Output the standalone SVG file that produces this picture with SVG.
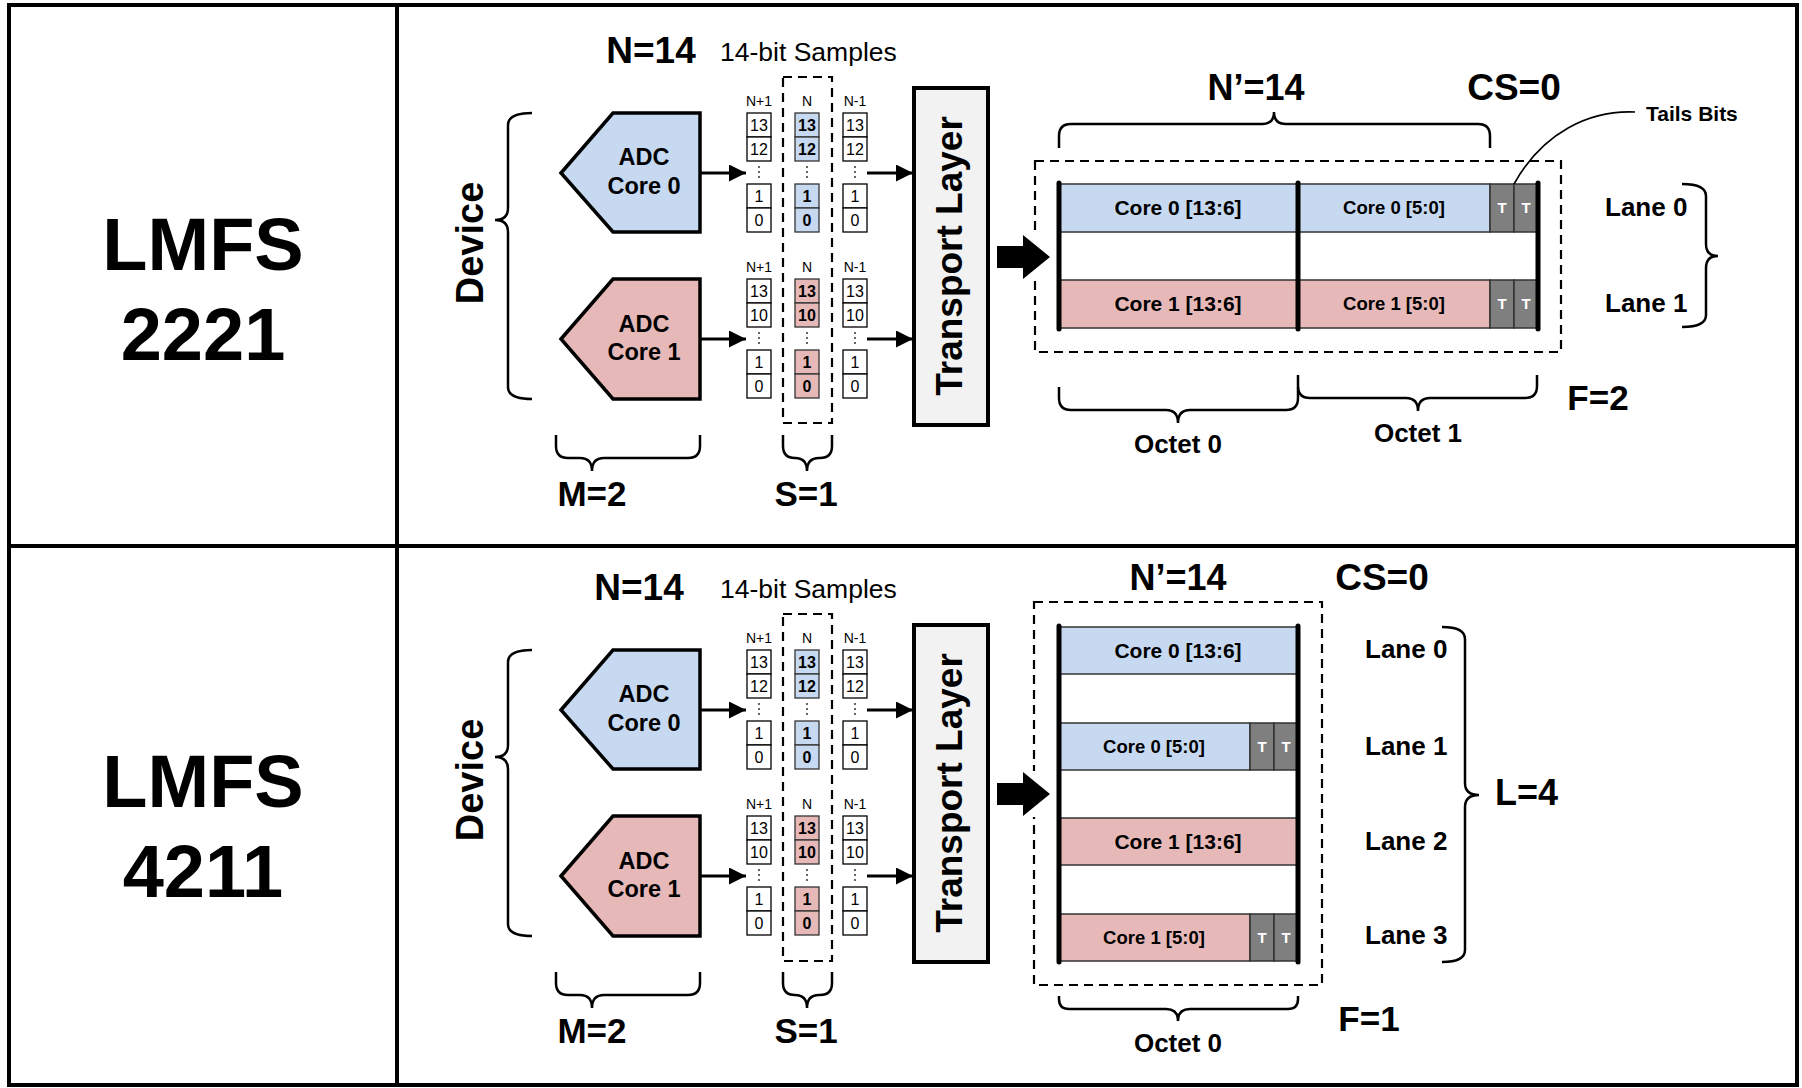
<svg xmlns="http://www.w3.org/2000/svg" width="1802" height="1088" viewBox="0 0 1802 1088">
<defs>
<style>
.b{font-family:"Liberation Sans",Arial,sans-serif;font-weight:bold;fill:#000}
.n{font-family:"Liberation Sans",Arial,sans-serif;fill:#000}
.c{text-anchor:middle}
.blue{fill:#c6d9f1}
.red{fill:#e6b9b8}
.box{fill:#fff;stroke:#000;stroke-width:1.3}
.bbox{stroke:#333;stroke-width:1.3}
.adc{stroke:#000;stroke-width:3.5;stroke-linejoin:miter}
.brace{fill:none;stroke:#000;stroke-width:2.5}
.dash{fill:none;stroke:#000;stroke-width:2.2;stroke-dasharray:9 6}
.row{stroke:#333;stroke-width:1.5}
.tc{fill:#7f7f7f;stroke:#333;stroke-width:1.5}
.thick{stroke:#000;stroke-width:5;stroke-linecap:round}
.wire{stroke:#000;stroke-width:3.2;fill:none}
.dot{fill:#333}
.tl{fill:#f2f2f2;stroke:#000;stroke-width:4}
</style>
<marker id="ah" markerUnits="userSpaceOnUse" markerWidth="18" markerHeight="18" refX="17" refY="8.5" orient="auto">
<path d="M0,0 L17,8.5 L0,17 Z" fill="#000"/>
</marker>
</defs>
<rect width="1802" height="1088" fill="#fff"/>

<g id="frame" fill="none" stroke="#000" stroke-width="4">
<rect x="9" y="5" width="1788" height="1080"/>
<line x1="397" y1="5" x2="397" y2="1085"/>
<line x1="9" y1="546" x2="1797" y2="546"/>
</g>

<!-- ===================== TOP PANEL ===================== -->
<g id="title-2221">
<text class="b c" x="203" y="270" font-size="74">LMFS</text>
<text class="b c" x="203" y="360" font-size="74">2221</text>
</g>

<g id="device-top">
<path class="brace" d="M532,113 Q508,113 508,125 L508,208 Q508,220 495,220 Q508,220 508,232 L508,387 Q508,399 532,399"/>
<text class="b c" font-size="38" transform="translate(483,243) rotate(-90)">Device</text>
</g>

<g id="adc0-top">
<polygon class="adc blue" points="561,173 613,113 700,113 700,232 613,232"/>
<text class="b c" x="644" y="165" font-size="23.5">ADC</text>
<text class="b c" x="644" y="194" font-size="23.5">Core 0</text>
</g>
<g id="adc1-top">
<polygon class="adc red" points="561,339 613,279 700,279 700,399 613,399"/>
<text class="b c" x="644" y="332" font-size="23.5">ADC</text>
<text class="b c" x="644" y="360" font-size="23.5">Core 1</text>
</g>

<g id="labels-top">
<text class="b c" x="651" y="63" font-size="37">N=14</text>
<text class="n" x="720" y="61" font-size="26.5">14-bit Samples</text>
<path class="brace" d="M556,435 L556,446 Q556,458 568,458 L580,458 Q592,458 592,471 Q592,458 604,458 L688,458 Q700,458 700,446 L700,435"/>
<text class="b c" x="592" y="506" font-size="35">M=2</text>
<path class="brace" d="M783,435 L783,446 Q783,458 795,458 L795,458 Q807,458 807,471 Q807,458 819,458 L820,458 Q832,458 832,446 L832,435"/>
<text class="b c" x="806" y="506" font-size="35">S=1</text>
</g>

<g id="samples0-top">
<text class="n c" x="759" y="106" font-size="14">N+1</text>
<text class="n c" x="807" y="106" font-size="14">N</text>
<text class="n c" x="855" y="106" font-size="14">N-1</text>
<rect class="box" x="747" y="113" width="24" height="24"/><rect class="box" x="747" y="137" width="24" height="24"/>
<rect class="box" x="747" y="184" width="24" height="24"/><rect class="box" x="747" y="208" width="24" height="24"/>
<rect class="bbox blue" x="795" y="113" width="24" height="24"/><rect class="bbox blue" x="795" y="137" width="24" height="24"/>
<rect class="bbox blue" x="795" y="184" width="24" height="24"/><rect class="bbox blue" x="795" y="208" width="24" height="24"/>
<rect class="box" x="843" y="113" width="24" height="24"/><rect class="box" x="843" y="137" width="24" height="24"/>
<rect class="box" x="843" y="184" width="24" height="24"/><rect class="box" x="843" y="208" width="24" height="24"/>
<text class="n c" x="759" y="131" font-size="16">13</text><text class="n c" x="759" y="155" font-size="16">12</text>
<text class="n c" x="759" y="202" font-size="16">1</text><text class="n c" x="759" y="226" font-size="16">0</text>
<text class="b c" x="807" y="131" font-size="16">13</text><text class="b c" x="807" y="155" font-size="16">12</text>
<text class="b c" x="807" y="202" font-size="16">1</text><text class="b c" x="807" y="226" font-size="16">0</text>
<text class="n c" x="855" y="131" font-size="16">13</text><text class="n c" x="855" y="155" font-size="16">12</text>
<text class="n c" x="855" y="202" font-size="16">1</text><text class="n c" x="855" y="226" font-size="16">0</text>
<circle class="dot" cx="759" cy="167" r="1"/><circle class="dot" cx="759" cy="172" r="1"/><circle class="dot" cx="759" cy="177" r="1"/>
<circle class="dot" cx="807" cy="167" r="1"/><circle class="dot" cx="807" cy="172" r="1"/><circle class="dot" cx="807" cy="177" r="1"/>
<circle class="dot" cx="855" cy="167" r="1"/><circle class="dot" cx="855" cy="172" r="1"/><circle class="dot" cx="855" cy="177" r="1"/>
</g>

<g id="samples1-top" transform="translate(0,166)">
<text class="n c" x="759" y="106" font-size="14">N+1</text>
<text class="n c" x="807" y="106" font-size="14">N</text>
<text class="n c" x="855" y="106" font-size="14">N-1</text>
<rect class="box" x="747" y="113" width="24" height="24"/><rect class="box" x="747" y="137" width="24" height="24"/>
<rect class="box" x="747" y="184" width="24" height="24"/><rect class="box" x="747" y="208" width="24" height="24"/>
<rect class="bbox red" x="795" y="113" width="24" height="24"/><rect class="bbox red" x="795" y="137" width="24" height="24"/>
<rect class="bbox red" x="795" y="184" width="24" height="24"/><rect class="bbox red" x="795" y="208" width="24" height="24"/>
<rect class="box" x="843" y="113" width="24" height="24"/><rect class="box" x="843" y="137" width="24" height="24"/>
<rect class="box" x="843" y="184" width="24" height="24"/><rect class="box" x="843" y="208" width="24" height="24"/>
<text class="n c" x="759" y="131" font-size="16">13</text><text class="n c" x="759" y="155" font-size="16">10</text>
<text class="n c" x="759" y="202" font-size="16">1</text><text class="n c" x="759" y="226" font-size="16">0</text>
<text class="b c" x="807" y="131" font-size="16">13</text><text class="b c" x="807" y="155" font-size="16">10</text>
<text class="b c" x="807" y="202" font-size="16">1</text><text class="b c" x="807" y="226" font-size="16">0</text>
<text class="n c" x="855" y="131" font-size="16">13</text><text class="n c" x="855" y="155" font-size="16">10</text>
<text class="n c" x="855" y="202" font-size="16">1</text><text class="n c" x="855" y="226" font-size="16">0</text>
<circle class="dot" cx="759" cy="167" r="1"/><circle class="dot" cx="759" cy="172" r="1"/><circle class="dot" cx="759" cy="177" r="1"/>
<circle class="dot" cx="807" cy="167" r="1"/><circle class="dot" cx="807" cy="172" r="1"/><circle class="dot" cx="807" cy="177" r="1"/>
<circle class="dot" cx="855" cy="167" r="1"/><circle class="dot" cx="855" cy="172" r="1"/><circle class="dot" cx="855" cy="177" r="1"/>
</g>

<g id="sample-select-top">
<rect class="dash" x="783" y="77" width="49" height="346"/>
</g>

<g id="transport-top">
<rect class="tl" x="914" y="88" width="74" height="337"/>
<text class="b c" font-size="37" transform="translate(962,256) rotate(-90)">Transport Layer</text>
</g>

<g id="lanes-top">
<rect class="dash" x="1035" y="161" width="526" height="191"/>
<rect class="row blue" x="1059" y="184" width="431" height="48"/>
<rect class="row red" x="1059" y="280" width="431" height="48"/>
<rect class="tc" x="1490" y="184" width="24" height="48"/><rect class="tc" x="1514" y="184" width="24" height="48"/>
<rect class="tc" x="1490" y="280" width="24" height="48"/><rect class="tc" x="1514" y="280" width="24" height="48"/>
<line class="thick" x1="1059" y1="183" x2="1059" y2="329"/>
<line class="thick" x1="1298" y1="183" x2="1298" y2="329"/>
<line class="thick" x1="1538" y1="183" x2="1538" y2="329"/>
<text class="b c" x="1178" y="215" font-size="21">Core 0 [13:6]</text>
<text class="b c" x="1394" y="214" font-size="18.5">Core 0 [5:0]</text>
<text class="b c" x="1178" y="311" font-size="21">Core 1 [13:6]</text>
<text class="b c" x="1394" y="310" font-size="18.5">Core 1 [5:0]</text>
<g class="b c" font-size="15" style="fill:#fff">
<text x="1502" y="213">T</text><text x="1526" y="213">T</text>
<text x="1502" y="309">T</text><text x="1526" y="309">T</text>
</g>
</g>

<g id="annot-top">
<text class="b c" x="1256" y="100" font-size="36">N’=14</text>
<text class="b c" x="1514" y="100" font-size="37">CS=0</text>
<path class="brace" d="M1059,148 L1059,136 Q1059,124 1071,124 L1262,124 Q1274,124 1274,112 Q1274,124 1286,124 L1478,124 Q1490,124 1490,136 L1490,148"/>
<text class="b" x="1646" y="121" font-size="21">Tails Bits</text>
<text class="b" x="1605" y="216" font-size="26">Lane 0</text>
<text class="b" x="1605" y="312" font-size="26">Lane 1</text>
<path class="brace" d="M1682,184 Q1706,184 1706,196 L1706,244 Q1706,256 1718,256 Q1706,256 1706,268 L1706,315 Q1706,327 1682,327"/>
<path class="brace" d="M1059,387 L1059,398 Q1059,410 1071,410 L1166,410 Q1178,410 1178,423 Q1178,410 1190,410 L1286,410 Q1298,410 1298,398 L1298,387"/>
<path class="brace" d="M1298,375 L1298,386 Q1298,398 1310,398 L1406,398 Q1418,398 1418,411 Q1418,398 1430,398 L1525,398 Q1537,398 1537,386 L1537,375"/>
<text class="b c" x="1178" y="453" font-size="26">Octet 0</text>
<text class="b c" x="1418" y="442" font-size="26">Octet 1</text>
<text class="b c" x="1598" y="410" font-size="35">F=2</text>
</g>

<!-- ===================== BOTTOM PANEL ===================== -->
<g id="title-4211">
<text class="b c" x="203" y="807" font-size="74">LMFS</text>
<text class="b c" x="203" y="897" font-size="74">4211</text>
</g>

<g id="device-bottom">
<path class="brace" d="M532,650 Q508,650 508,662 L508,745 Q508,757 495,757 Q508,757 508,769 L508,924 Q508,936 532,936"/>
<text class="b c" font-size="38" transform="translate(483,780) rotate(-90)">Device</text>
</g>

<g id="adc0-bottom">
<polygon class="adc blue" points="561,710 613,650 700,650 700,769 613,769"/>
<text class="b c" x="644" y="702" font-size="23.5">ADC</text>
<text class="b c" x="644" y="731" font-size="23.5">Core 0</text>
</g>
<g id="adc1-bottom">
<polygon class="adc red" points="561,876 613,816 700,816 700,936 613,936"/>
<text class="b c" x="644" y="869" font-size="23.5">ADC</text>
<text class="b c" x="644" y="897" font-size="23.5">Core 1</text>
</g>

<g id="labels-bottom">
<text class="b c" x="639" y="600" font-size="37">N=14</text>
<text class="n" x="720" y="598" font-size="26.5">14-bit Samples</text>
<path class="brace" d="M556,972 L556,983 Q556,995 568,995 L580,995 Q592,995 592,1008 Q592,995 604,995 L688,995 Q700,995 700,983 L700,972"/>
<text class="b c" x="592" y="1043" font-size="35">M=2</text>
<path class="brace" d="M783,972 L783,983 Q783,995 795,995 L795,995 Q807,995 807,1008 Q807,995 819,995 L820,995 Q832,995 832,983 L832,972"/>
<text class="b c" x="806" y="1043" font-size="35">S=1</text>
</g>

<g id="samples0-bottom" transform="translate(0,537)">
<text class="n c" x="759" y="106" font-size="14">N+1</text>
<text class="n c" x="807" y="106" font-size="14">N</text>
<text class="n c" x="855" y="106" font-size="14">N-1</text>
<rect class="box" x="747" y="113" width="24" height="24"/><rect class="box" x="747" y="137" width="24" height="24"/>
<rect class="box" x="747" y="184" width="24" height="24"/><rect class="box" x="747" y="208" width="24" height="24"/>
<rect class="bbox blue" x="795" y="113" width="24" height="24"/><rect class="bbox blue" x="795" y="137" width="24" height="24"/>
<rect class="bbox blue" x="795" y="184" width="24" height="24"/><rect class="bbox blue" x="795" y="208" width="24" height="24"/>
<rect class="box" x="843" y="113" width="24" height="24"/><rect class="box" x="843" y="137" width="24" height="24"/>
<rect class="box" x="843" y="184" width="24" height="24"/><rect class="box" x="843" y="208" width="24" height="24"/>
<text class="n c" x="759" y="131" font-size="16">13</text><text class="n c" x="759" y="155" font-size="16">12</text>
<text class="n c" x="759" y="202" font-size="16">1</text><text class="n c" x="759" y="226" font-size="16">0</text>
<text class="b c" x="807" y="131" font-size="16">13</text><text class="b c" x="807" y="155" font-size="16">12</text>
<text class="b c" x="807" y="202" font-size="16">1</text><text class="b c" x="807" y="226" font-size="16">0</text>
<text class="n c" x="855" y="131" font-size="16">13</text><text class="n c" x="855" y="155" font-size="16">12</text>
<text class="n c" x="855" y="202" font-size="16">1</text><text class="n c" x="855" y="226" font-size="16">0</text>
<circle class="dot" cx="759" cy="167" r="1"/><circle class="dot" cx="759" cy="172" r="1"/><circle class="dot" cx="759" cy="177" r="1"/>
<circle class="dot" cx="807" cy="167" r="1"/><circle class="dot" cx="807" cy="172" r="1"/><circle class="dot" cx="807" cy="177" r="1"/>
<circle class="dot" cx="855" cy="167" r="1"/><circle class="dot" cx="855" cy="172" r="1"/><circle class="dot" cx="855" cy="177" r="1"/>
</g>

<g id="samples1-bottom" transform="translate(0,703)">
<text class="n c" x="759" y="106" font-size="14">N+1</text>
<text class="n c" x="807" y="106" font-size="14">N</text>
<text class="n c" x="855" y="106" font-size="14">N-1</text>
<rect class="box" x="747" y="113" width="24" height="24"/><rect class="box" x="747" y="137" width="24" height="24"/>
<rect class="box" x="747" y="184" width="24" height="24"/><rect class="box" x="747" y="208" width="24" height="24"/>
<rect class="bbox red" x="795" y="113" width="24" height="24"/><rect class="bbox red" x="795" y="137" width="24" height="24"/>
<rect class="bbox red" x="795" y="184" width="24" height="24"/><rect class="bbox red" x="795" y="208" width="24" height="24"/>
<rect class="box" x="843" y="113" width="24" height="24"/><rect class="box" x="843" y="137" width="24" height="24"/>
<rect class="box" x="843" y="184" width="24" height="24"/><rect class="box" x="843" y="208" width="24" height="24"/>
<text class="n c" x="759" y="131" font-size="16">13</text><text class="n c" x="759" y="155" font-size="16">10</text>
<text class="n c" x="759" y="202" font-size="16">1</text><text class="n c" x="759" y="226" font-size="16">0</text>
<text class="b c" x="807" y="131" font-size="16">13</text><text class="b c" x="807" y="155" font-size="16">10</text>
<text class="b c" x="807" y="202" font-size="16">1</text><text class="b c" x="807" y="226" font-size="16">0</text>
<text class="n c" x="855" y="131" font-size="16">13</text><text class="n c" x="855" y="155" font-size="16">10</text>
<text class="n c" x="855" y="202" font-size="16">1</text><text class="n c" x="855" y="226" font-size="16">0</text>
<circle class="dot" cx="759" cy="167" r="1"/><circle class="dot" cx="759" cy="172" r="1"/><circle class="dot" cx="759" cy="177" r="1"/>
<circle class="dot" cx="807" cy="167" r="1"/><circle class="dot" cx="807" cy="172" r="1"/><circle class="dot" cx="807" cy="177" r="1"/>
<circle class="dot" cx="855" cy="167" r="1"/><circle class="dot" cx="855" cy="172" r="1"/><circle class="dot" cx="855" cy="177" r="1"/>
</g>

<g id="sample-select-bottom">
<rect class="dash" x="783" y="614" width="49" height="347"/>
</g>

<g id="transport-bottom">
<rect class="tl" x="914" y="625" width="74" height="337"/>
<text class="b c" font-size="37" transform="translate(962,793) rotate(-90)">Transport Layer</text>
</g>

<g id="lanes-bottom">
<rect class="dash" x="1034" y="602" width="288" height="383"/>
<rect class="row blue" x="1059" y="627" width="239" height="47"/>
<rect class="row blue" x="1059" y="723" width="191" height="47"/>
<rect class="row red" x="1059" y="818" width="239" height="47"/>
<rect class="row red" x="1059" y="914" width="191" height="47"/>
<rect class="tc" x="1250" y="723" width="24" height="47"/><rect class="tc" x="1274" y="723" width="24" height="47"/>
<rect class="tc" x="1250" y="914" width="24" height="47"/><rect class="tc" x="1274" y="914" width="24" height="47"/>
<line class="thick" x1="1059" y1="626" x2="1059" y2="962"/>
<line class="thick" x1="1298" y1="626" x2="1298" y2="962"/>
<text class="b c" x="1178" y="658" font-size="21">Core 0 [13:6]</text>
<text class="b c" x="1154" y="753" font-size="18.5">Core 0 [5:0]</text>
<text class="b c" x="1178" y="849" font-size="21">Core 1 [13:6]</text>
<text class="b c" x="1154" y="944" font-size="18.5">Core 1 [5:0]</text>
<g class="b c" font-size="15" style="fill:#fff">
<text x="1262" y="752">T</text><text x="1286" y="752">T</text>
<text x="1262" y="943">T</text><text x="1286" y="943">T</text>
</g>
</g>

<g id="annot-bottom">
<text class="b c" x="1178" y="590" font-size="36">N’=14</text>
<text class="b c" x="1382" y="590" font-size="37">CS=0</text>
<text class="b" x="1365" y="658" font-size="26">Lane 0</text>
<text class="b" x="1365" y="755" font-size="26">Lane 1</text>
<text class="b" x="1365" y="850" font-size="26">Lane 2</text>
<text class="b" x="1365" y="944" font-size="26">Lane 3</text>
<path class="brace" d="M1442,627 Q1465,627 1465,639 L1465,783 Q1465,795 1479,795 Q1465,795 1465,807 L1465,950 Q1465,962 1442,962"/>
<text class="b" x="1495" y="805" font-size="36">L=4</text>
<path class="brace" d="M1059,996 L1059,999 Q1059,1009 1069,1009 L1166,1009 Q1178,1009 1178,1021 Q1178,1009 1190,1009 L1288,1009 Q1298,1009 1298,999 L1298,996"/>
<text class="b c" x="1178" y="1052" font-size="26">Octet 0</text>
<text class="b c" x="1369" y="1031" font-size="35">F=1</text>
</g>

<g id="connectors">
<line class="wire" x1="700" y1="173" x2="746" y2="173" marker-end="url(#ah)"/>
<line class="wire" x1="700" y1="339" x2="746" y2="339" marker-end="url(#ah)"/>
<line class="wire" x1="867" y1="173" x2="913" y2="173" marker-end="url(#ah)"/>
<line class="wire" x1="867" y1="339" x2="913" y2="339" marker-end="url(#ah)"/>
<line class="wire" x1="700" y1="710" x2="746" y2="710" marker-end="url(#ah)"/>
<line class="wire" x1="700" y1="876" x2="746" y2="876" marker-end="url(#ah)"/>
<line class="wire" x1="867" y1="710" x2="913" y2="710" marker-end="url(#ah)"/>
<line class="wire" x1="867" y1="876" x2="913" y2="876" marker-end="url(#ah)"/>
<rect x="1030" y="234" width="12" height="46" fill="#fff"/>
<polygon points="997,246 1023,246 1023,235 1050,257 1023,279 1023,268 997,268" fill="#000"/>
<rect x="1029" y="771" width="12" height="46" fill="#fff"/>
<polygon points="997,783 1023,783 1023,772 1050,794 1023,816 1023,805 997,805" fill="#000"/>
<path d="M1635,112 C1590,110 1543,132 1514,184" fill="none" stroke="#000" stroke-width="1.6"/>
</g>
</svg>
